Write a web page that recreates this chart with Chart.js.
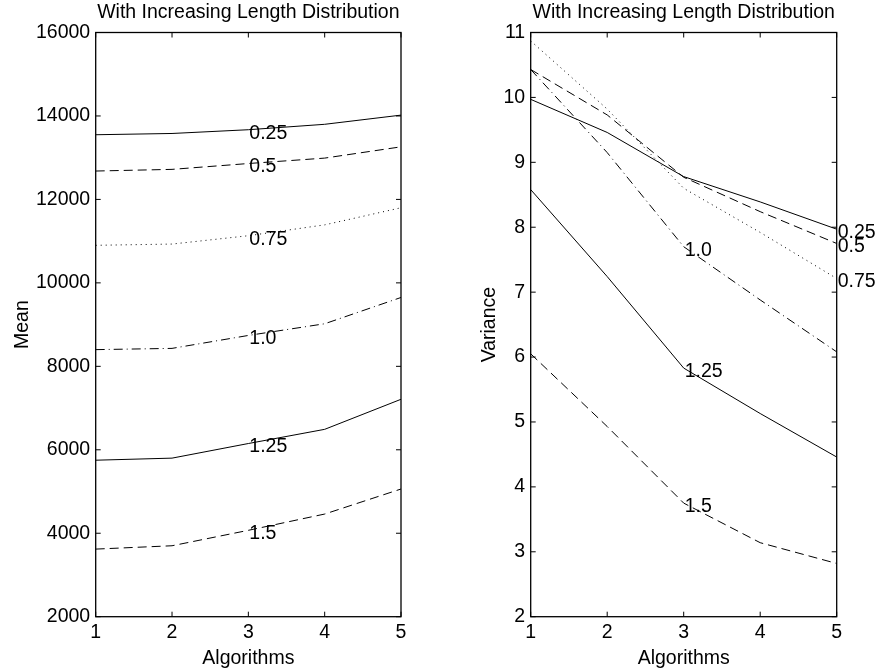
<!DOCTYPE html>
<html>
<head>
<meta charset="utf-8">
<script src="https://cdn.jsdelivr.net/npm/chart.js@4.4.1/dist/chart.umd.min.js"></script>
<style>
  html, body { margin: 0; padding: 0; background: #fff; }
  #wrap { position: relative; width: 878px; height: 670px; }
  #meanChart { position: absolute; left: 0; top: 0; }
  #varChart { position: absolute; left: 440px; top: 0; }
</style>
</head>
<body>
<div id="wrap">
  <canvas id="meanChart" width="440" height="670"></canvas>
  <canvas id="varChart" width="438" height="670"></canvas>
</div>
<script>
// valeurs
const algorithms = ['1', '2', '3', '4', '5'];
const shapeParams = ['0.25', '0.5', '0.75', '1.0', '1.25', '1.5'];

const mean025 = [13550, 13580, 13670, 13800, 14020];
const mean050 = [12680, 12720, 12860, 12990, 13260];
const mean075 = [10900, 10930, 11130, 11390, 11800];
const mean100 = [8400, 8430, 8740, 9020, 9650];
const mean125 = [5750, 5800, 6150, 6490, 7210];
const mean150 = [3620, 3700, 4070, 4460, 5060];

const var025 = [9.97, 9.46, 8.78, 8.39, 7.97];
const var050 = [10.43, 9.73, 8.77, 8.24, 7.75];
const var075 = [10.87, 9.82, 8.60, 7.92, 7.21];
const var100 = [10.43, 9.15, 7.70, 6.88, 6.08];
const var125 = [8.58, 7.24, 5.83, 5.13, 4.46];
const var150 = [6.05, 4.93, 3.75, 3.14, 2.82];

const meanTicks = [2000, 4000, 6000, 8000, 10000, 12000, 14000, 16000];
const varTicks = [2, 3, 4, 5, 6, 7, 8, 9, 10, 11];

// solide, tirets, pointillés, tiret-point (comme matlab)
const dashes = [[], [9, 5], [1, 4], [9, 4, 1, 4], [], [9, 5]];

Chart.defaults.font.family = "'Liberation Sans', Arial, sans-serif";
Chart.defaults.font.size = 19.5;
Chart.defaults.color = '#000';

// cadre + graduations vers l'intérieur
const framePlugin = {
    id: 'frame',
    afterDraw(chart) {
        const { ctx, chartArea: a, scales } = chart;
        const x = scales.x, y = scales.y;
        ctx.save();
        ctx.strokeStyle = '#000';
        ctx.lineWidth = 1;
        ctx.beginPath();
        x.ticks.forEach((t, i) => {
            const px = x.getPixelForTick(i);
            ctx.moveTo(px, a.bottom); ctx.lineTo(px, a.bottom - 5);
            ctx.moveTo(px, a.top); ctx.lineTo(px, a.top + 5);
        });
        y.ticks.forEach((t, i) => {
            const py = y.getPixelForTick(i);
            ctx.moveTo(a.left, py); ctx.lineTo(a.left + 5, py);
            ctx.moveTo(a.right, py); ctx.lineTo(a.right - 5, py);
        });
        ctx.stroke();
        ctx.lineWidth = 1.3;
        ctx.strokeRect(a.left, a.top, a.right - a.left, a.bottom - a.top);
        ctx.restore();
    }
};

// étiquettes posées sur les courbes
const curveLabelPlugin = {
    id: 'curveLabels',
    afterDatasetsDraw(chart, args, opts) {
        const ctx = chart.ctx;
        ctx.save();
        ctx.font = "19.5px 'Liberation Sans', Arial, sans-serif";
        ctx.fillStyle = '#000';
        ctx.textAlign = 'left';
        ctx.textBaseline = 'middle';
        chart.data.datasets.forEach((ds, i) => {
            const pt = chart.getDatasetMeta(i).data[opts.at[i]];
            ctx.fillText(ds.label, pt.x + 1, pt.y + 3.5);
        });
        ctx.restore();
    }
};

function makeDatasets(series) {
    return series.map((vals, i) => ({
        label: shapeParams[i],
        data: vals,
        borderColor: '#000',
        borderWidth: 1,
        borderDash: dashes[i],
        pointRadius: 0,
        tension: 0,
        fill: false
    }));
}

function makeChart(canvasId, series, yTicks, yTitle, opt) {
    const ctx = document.getElementById(canvasId).getContext('2d');
    return new Chart(ctx, {
        type: 'line',
        data: { labels: algorithms, datasets: makeDatasets(series) },
        options: {
            responsive: false,
            animation: false,
            layout: { padding: { left: 0, right: opt.padRight, top: 0, bottom: 0 } },
            scales: {
                x: {
                    type: 'category',
                    offset: false,
                    grid: { display: false, drawTicks: false, tickLength: 0 },
                    border: { display: false },
                    ticks: { padding: 4, maxRotation: 0, autoSkip: false },
                    title: { display: true, text: 'Algorithms', padding: { top: 7.3, bottom: 0 } },
                    afterFit: s => { s.height = 53.3; }
                },
                y: {
                    min: yTicks[0],
                    max: yTicks[yTicks.length - 1],
                    afterBuildTicks: s => { s.ticks = yTicks.map(v => ({ value: v })); },
                    grid: { display: false, drawTicks: false, tickLength: 0 },
                    border: { display: false },
                    ticks: { padding: 5.5, callback: v => String(v) },
                    title: { display: true, text: yTitle, padding: { top: opt.yTitlePad, bottom: 0 } },
                    afterFit: s => { s.width = opt.yWidth; }
                }
            },
            plugins: {
                legend: { display: false },
                tooltip: { enabled: false },
                title: {
                    display: true,
                    fullSize: false,
                    text: 'With Increasing Length Distribution',
                    font: { weight: 'normal', lineHeight: 1 },
                    padding: { top: 2.5, bottom: 10.5 }
                },
                curveLabels: { at: opt.labelAt }
            }
        },
        plugins: [framePlugin, curveLabelPlugin]
    });
}

makeChart('meanChart',
    [mean025, mean050, mean075, mean100, mean125, mean150],
    meanTicks, 'Mean',
    { padRight: 39, yWidth: 95.7, yTitlePad: 11.3, labelAt: [2, 2, 2, 2, 2, 2] });

makeChart('varChart',
    [var025, var050, var075, var100, var125, var150],
    varTicks, 'Variance',
    { padRight: 41.3, yWidth: 90.7, yTitlePad: 38.2, labelAt: [4, 4, 4, 2, 2, 2] });
</script>
</body>
</html>
